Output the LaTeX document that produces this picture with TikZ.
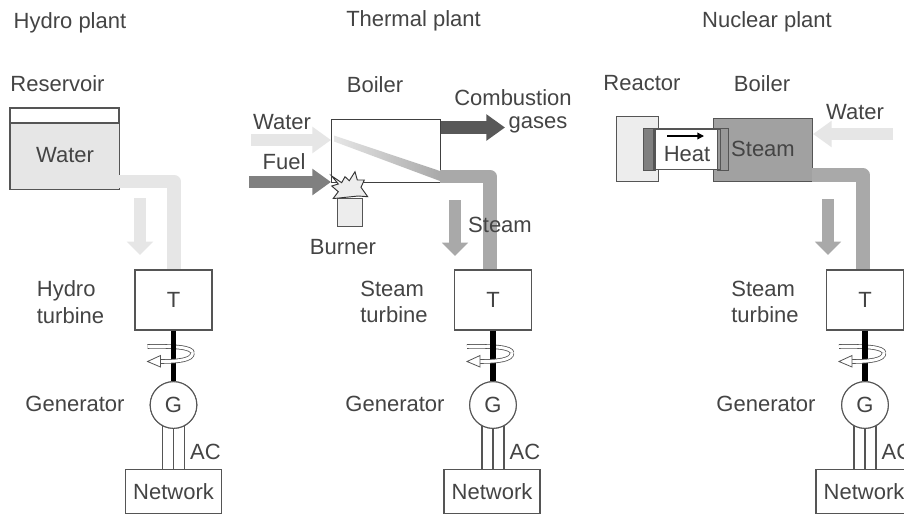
\documentclass[tikz,border=0pt]{standalone}
\usepackage{fontspec}
\setmainfont{Liberation Sans}
\usetikzlibrary{arrows.meta}
\definecolor{txt}{HTML}{444444}
\definecolor{ln}{HTML}{555555}
\definecolor{wat}{HTML}{E6E6E6}
\definecolor{stm}{HTML}{A9A9A9}
\definecolor{fuelc}{HTML}{808080}
\definecolor{gasc}{HTML}{585858}
\tikzset{
  lbl/.style={text=txt,font=\fontsize{16.5}{20}\selectfont,inner sep=0pt,align=center},
  boxn/.style={draw=ln,line width=.8pt,inner sep=0pt,text=txt,font=\fontsize{16.5}{20}\selectfont},
  pipe/.style={line width=10pt,line join=round},
  flow/.style={line width=9pt,-{Triangle[length=10pt,width=19pt]}},
  hflow/.style={line width=9.5pt,-{Triangle[length=14pt,width=19pt]}},
  wire/.style={draw=ln,line width=.9pt},
  rot/.style={draw=ln,line width=.6pt,double=white,double distance=2.2pt}
}
\newcommand{\lowerpart}[6]{% prefix, cx, net cx, turbine label, label x, generator x
  \node[boxn,minimum width=57.75pt,minimum height=45pt] (#1T) at (#2,300) {T};
  \node[boxn,circle,minimum size=35pt] (#1G) at (#2,405) {G};
  \node[boxn,minimum width=72pt,minimum height=33pt] (#1N) at (#3,491.5) {Network};
  \begin{scope}[shift={(#2,0)}]
    \coordinate (#1ra) at (-26,346.5);
    \coordinate (#1rm) at (19,353);
    \coordinate (#1rb) at (-13,361.5);
    \draw[rot] (#1ra) .. controls (0,346) and (19,347) .. (#1rm);
    \coordinate (#1w1) at (-11,0); \coordinate (#1w2) at (0,0); \coordinate (#1w3) at (11,0);
  \end{scope}
  \draw[black,line width=3.8pt] (#1T.south) -- (#1G.north);
  \begin{scope}[shift={(#2,0)}]
    \draw[rot] (#1rm) .. controls (19,360) and (5,361.5) .. (#1rb);
    \fill[white,draw=ln,line width=.6pt] (-26,361.5) -- (-13,355.5) -- (-13,367) -- cycle;
  \end{scope}
  \foreach \k in {1,2,3}{
    \draw[wire] (#1w\k |- #1G.center) -- (#1w\k |- #1N.north);
  }
  \node[boxn,circle,minimum size=35pt,fill=white] at (#1G) {G};
  \node[lbl,align=left] (#1tl) at (#5,302) {#4};
  \node[lbl] (#1gl) at (#6,404) {Generator};
  \node[lbl] (#1ac) at ([xshift=24pt]#2,452) {AC};
}
\begin{document}
\begin{tikzpicture}[x=.75pt,y=-.75pt]
\useasboundingbox (0,0) rectangle (904,515);
\clip (0,0) rectangle (904,515);
\fill[white] (0,0) rectangle (904,515);
% titles
\node[lbl] (t1) at (70,23) {Hydro plant};
\node[lbl] (t2) at (413.5,20.5) {Thermal plant};
\node[lbl] (t3) at (767,22) {Nuclear plant};
% ---- hydro
\node[lbl] (resl) at (57.5,84) {Reservoir};
\node[draw=ln,line width=.8pt,minimum width=81pt,minimum height=60pt,inner sep=0pt,anchor=north west] (res) at (10,108) {};
\fill[wat] (res.west |- 0,123) rectangle (res.south east);
\draw[ln,line width=.8pt] (res.north west) rectangle (res.south east);
\draw[ln,line width=.8pt] (res.west |- 0,123) -- (res.east |- 0,123);
\node[lbl] (wat1) at (65,155) {Water};
\lowerpart{a}{173.5}{173.5}{Hydro\\turbine}{70.5}{75}
\coordinate (p1) at (118,181.5);
\coordinate (p1c) at (174,181.5);
\draw[wat,pipe] (p1) -- (p1c) -- (p1c |- aT.north);
\draw[wat,flow] (140,198) -- (140,255);
% ---- thermal
\node[lbl] (bl) at (375,85) {Boiler};
\node[lbl] (cl) at (513,98) {Combustion};
\node[lbl] (gl) at (538,125) {gases};
\node[draw=black!75,line width=.8pt,minimum width=81.75pt,minimum height=47.25pt,inner sep=0pt,anchor=north west] (boil) at (331,119) {};
\coordinate (w0) at (251,140); \coordinate (f0) at (249,182); \coordinate (g1) at (505,127.5);
\draw[wat,hflow] (w0) -- (boil.west |- w0);
\draw[fuelc,hflow] (f0) -- (boil.west |- f0);
\draw[gasc,hflow] (boil.east |- g1) -- (g1);
\shade[left color=wat,right color=stm] (334,135.5) -- (440,171) -- (440,181) -- (334,141.5) -- cycle;
\coordinate (p2) at (440,176.5);
\coordinate (p2c) at (490,176.5);
\lowerpart{b}{493}{492}{Steam\\turbine}{394}{395}
\draw[stm,pipe] (p2) -- (p2c) -- (p2c |- bT.north);
\draw[stm,flow] (455,200) -- (455,256);
\node[draw=ln,fill=black!7,line width=.8pt,minimum width=19pt,minimum height=21pt,inner sep=0pt,anchor=north west] (burn) at (337,198) {};
\path[draw=black!80,fill=black!7,line width=.7pt]
  (331.7,176) -- (341.7,182.7) -- (345,176.7) -- (349.3,180.7) -- (355,171.7) -- (357.3,180) -- (364.3,180)
  -- (361,187.3) -- (367.7,196.7) -- (358.3,196) -- (336,198.3) -- (333.3,198.3) -- (338.3,191.7) -- (331.7,186) -- (338.3,184) -- cycle;
\node[lbl] (wl) at (282,122) {Water};
\node[lbl] (fl) at (284,162) {Fuel};
\node[lbl] (bnl) at (343,247) {Burner};
\node[lbl] (sl) at (500,225) {Steam};
% ---- nuclear
\node[lbl] (rl) at (642,83) {Reactor};
\node[lbl] (b3) at (762,84) {Boiler};
\node[lbl] (wa3) at (855,112) {Water};
\node[draw=ln,fill=black!7,line width=.8pt,minimum width=31.5pt,minimum height=48.75pt,inner sep=0pt,anchor=north west] (reac) at (616,116) {};
\node[draw=ln,fill=black!37,line width=.8pt,minimum width=74.25pt,minimum height=47.25pt,inner sep=0pt,anchor=north west] (boil3) at (713,118) {};
\node[fill=white,minimum width=49.5pt,minimum height=30pt,inner sep=0pt,anchor=north west] (heat) at (654,129) {};
\node[draw=ln,fill=fuelc,line width=.8pt,minimum width=9pt,minimum height=32pt,inner sep=0pt,anchor=north west] (hl) at (643,127.5) {};
\node[draw=ln,fill=black!40,line width=.8pt,minimum width=8.25pt,minimum height=32pt,inner sep=0pt,anchor=north west] (hr) at (717,127.5) {};
\draw[ln,line width=.8pt] (heat.north west) rectangle (heat.south east);
\node[lbl] (hel) at (687,154) {Heat};
\node[lbl] (stl) at (763,149) {Steam};
\coordinate (ha) at (667,136); \coordinate (hb) at (704,136);
\draw[black,line width=1pt,-{Triangle[length=5pt,width=5pt]}] (ha) -- (hb);
\coordinate (w3) at (893,134);
\draw[wat,hflow] (w3) -- (boil3.east |- w3);
\coordinate (p3) at (812,175);
\coordinate (p3c) at (863,175);
\lowerpart{c}{865}{864}{Steam\\turbine}{765}{766}
\draw[stm,pipe] (p3) -- (p3c) -- (p3c |- cT.north);
\draw[stm,flow] (828,199) -- (828,255);
\end{tikzpicture}
\end{document}
